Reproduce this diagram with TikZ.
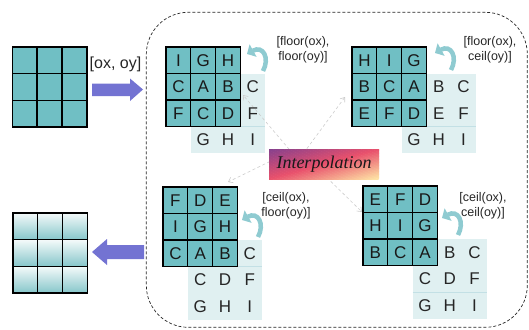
\documentclass[tikz,border=0pt]{standalone}
\usepackage{fontspec}
\setmainfont{Liberation Sans}
\newfontfamily\serifit{Liberation Serif}
\usetikzlibrary{arrows.meta}
\definecolor{tealc}{HTML}{70BFC4}
\definecolor{lightc}{HTML}{E0F0F1}
\definecolor{linec}{HTML}{C3E0E5}
\definecolor{bluec}{HTML}{7373D2}
\definecolor{curvc}{HTML}{8FCBD1}
\definecolor{purpc}{HTML}{84408E}
\definecolor{redc}{HTML}{E8506C}
\definecolor{yelc}{HTML}{FFE6A6}
\definecolor{gradtop}{HTML}{F4FAFA}
\definecolor{gradbot}{HTML}{86C6CA}
\newcommand\drawpanel[5]{%
  \foreach \r/\row in {#4}{%
    \foreach \l [count=\c] in \row {%
      \node[tcell] (#1-\r-\c) at ({#2+24.8*(\c-0.5)},{#3+26.5*(\r-0.5)}) {\l};
    }%
  }%
  \foreach \r/\c/\l in {#5}{%
    \node[lcell] (#1-\r-\c) at ({#2+24.8*(\c-0.5)},{#3+26.5*(\r-0.5)}) {\l};
  }%
}
\newcommand\curvarrow[2]{%
  \draw[curv] ({#1+16},{#2+17}) .. controls ({#1+23},{#2+4}) and ({#1+16},{#2-9}) .. (#1,#2);
}
\begin{document}
\begin{tikzpicture}[x=1pt,y=-1pt,
  tcell/.style={draw=black, line width=1.2pt, fill=tealc, minimum width=24.8pt, minimum height=26.5pt, inner sep=0pt, font=\fontsize{17}{17}\selectfont, text=black!90},
  lcell/.style={minimum width=24.8pt, minimum height=26.5pt, inner sep=0pt, font=\fontsize{17}{17}\selectfont, text=black!85},
  gcell/.style={draw=black, line width=1.2pt, top color=gradtop, bottom color=gradbot, minimum width=24.8pt, minimum height=26.6pt, inner sep=0pt},
  lbg/.style={fill=lightc},
  fline/.style={draw=linec, line width=0.8pt},
  lbl/.style={align=center, inner sep=0pt, font=\fontsize{12.5}{15.5}\selectfont, text=black!85},
  curv/.style={draw=curvc, line width=4.5pt, -{Triangle[length=7pt,width=14pt]}},
  garrow/.style={draw=black!20, line width=0.6pt, dash pattern=on 3pt off 2.5pt, -{Straight Barb[length=4pt,width=6pt]}},
  bluearrow/.style={fill=bluec},
]
\useasboundingbox (0,0) rectangle (529,329);

% dashed frame
\node[draw=black!85, line width=0.7pt, dash pattern=on 3pt off 2pt, rounded corners=42pt,
      minimum width=381pt, minimum height=315pt, inner sep=0pt] (frame) at (336.8,169.8) {};

% left source grid
\foreach \r in {1,2,3}{
  \foreach \c in {1,2,3}{
    \node[tcell] (src-\r-\c) at ({12+25*(\c-0.5)},{47+26.67*(\r-0.5)}) {};
  }
}
% left result grid
\foreach \r in {1,2,3}{
  \foreach \c in {1,2,3}{
    \node[gcell] (res-\r-\c) at ({13+24.7*(\c-0.5)},{213+26.67*(\r-0.5)}) {};
  }
}

% blue arrows
\coordinate (ra-tail) at (92,89.5);
\coordinate (ra-tip) at (143,89.5);
\fill[bluearrow] (ra-tail) ++(0,-6) -- ++(38,0) -- ++(0,-5) -- (ra-tip) -- ++(-13,11.5) -- ++(0,-5) -- ++(-38,0) -- cycle;
\node[inner sep=0pt, font=\fontsize{16}{16}\selectfont, text=black!85] (oxoy) at (115.5,64) {[ox, oy]};

\coordinate (la-tip) at (92,252);
\coordinate (la-tail) at (144,252);
\fill[bluearrow] (la-tip) -- ++(15,-13) -- ++(0,6) -- ++(37,0) -- ++(0,14) -- ++(-37,0) -- ++(0,6) -- cycle;

% light backgrounds
\fill[lbg] (190.8,73.5) rectangle (265.2,153);
\draw[fline] (190.8,126.5) -- (265.2,126.5);
\fill[lbg] (401.6,73.5) rectangle (476,153);
\draw[fline] (401.6,126.5) -- (476,126.5);
\fill[lbg] (187.8,240) rectangle (262.2,319.5);
\draw[fline] (187.8,266.5) -- (262.2,266.5);
\fill[lbg] (412.6,239) rectangle (487,318.5);
\draw[fline] (412.6,292) -- (487,292);

% gray dashed arrows (behind interpolation box)
\coordinate (g-tl-s) at (300,162);
\coordinate (g-tl-e) at (243,95);
\coordinate (g-tr-s) at (297,162);
\coordinate (g-tr-e) at (345,97);
\coordinate (g-bl-s) at (275,159);
\coordinate (g-bl-e) at (228,182);
\coordinate (g-br-s) at (315,166);
\coordinate (g-br-e) at (362,212);
\draw[garrow] (g-tl-s) -- (g-tl-e);
\draw[garrow] (g-tr-s) -- (g-tr-e);
\draw[garrow] (g-bl-s) -- (g-bl-e);
\draw[garrow] (g-br-s) -- (g-br-e);

% panels
\drawpanel{tl}{166}{47}{1/{I,G,H},2/{C,A,B},3/{F,C,D}}{2/4/C,3/4/F,4/2/G,4/3/H,4/4/I}
\drawpanel{tr}{352}{47}{1/{H,I,G},2/{B,C,A},3/{E,F,D}}{2/4/B,2/5/C,3/4/E,3/5/F,4/3/G,4/4/H,4/5/I}
\drawpanel{bl}{163}{187}{1/{F,D,E},2/{I,G,H},3/{C,A,B}}{3/4/C,4/2/C,4/3/D,4/4/F,5/2/G,5/3/H,5/4/I}
\drawpanel{br}{363}{186}{1/{E,F,D},2/{H,I,G},3/{B,C,A}}{3/4/B,3/5/C,4/3/C,4/4/D,4/5/F,5/3/G,5/4/H,5/5/I}

% curved arrows
\curvarrow{247}{54}
\curvarrow{435}{53}
\curvarrow{242}{220}
\curvarrow{442}{218}

% labels
\node[lbl] (lab-tl) at (303,50) {[floor(ox),\\floor(oy)]};
\node[lbl] (lab-tr) at (490,50) {[floor(ox),\\ceil(oy)]};
\node[lbl] (lab-bl) at (286,206) {[ceil(ox),\\floor(oy)]};
\node[lbl] (lab-br) at (483,206) {[ceil(ox),\\ceil(oy)]};

% interpolation box: diagonal gradient built from strips
\begin{scope}
  \clip (269,149) rectangle (379,179);
  \foreach \i in {0,...,39}{
    \pgfmathsetmacro\ta{\i/40}
    \pgfmathsetmacro\tb{(\i+1.3)/40}
    \ifnum\i<20
      \pgfmathtruncatemacro\pp{5*\i+2}
      \colorlet{stripc}{redc!\pp!purpc}
    \else
      \pgfmathtruncatemacro\pp{5*(\i-20)+2}
      \colorlet{stripc}{yelc!\pp!redc}
    \fi
    \fill[stripc] ({269+110*\ta-220},{149+30*\ta+60}) -- ({269+110*\ta+220},{149+30*\ta-60})
       -- ({269+110*\tb+220},{149+30*\tb-60}) -- ({269+110*\tb-220},{149+30*\tb+60}) -- cycle;
  }
\end{scope}
\node[minimum width=110pt, minimum height=30pt, inner sep=0pt,
      font=\serifit\itshape\fontsize{18}{18}\selectfont, text=black!90] (interp) at (324,164) {Interpolation};
\end{tikzpicture}
\end{document}
